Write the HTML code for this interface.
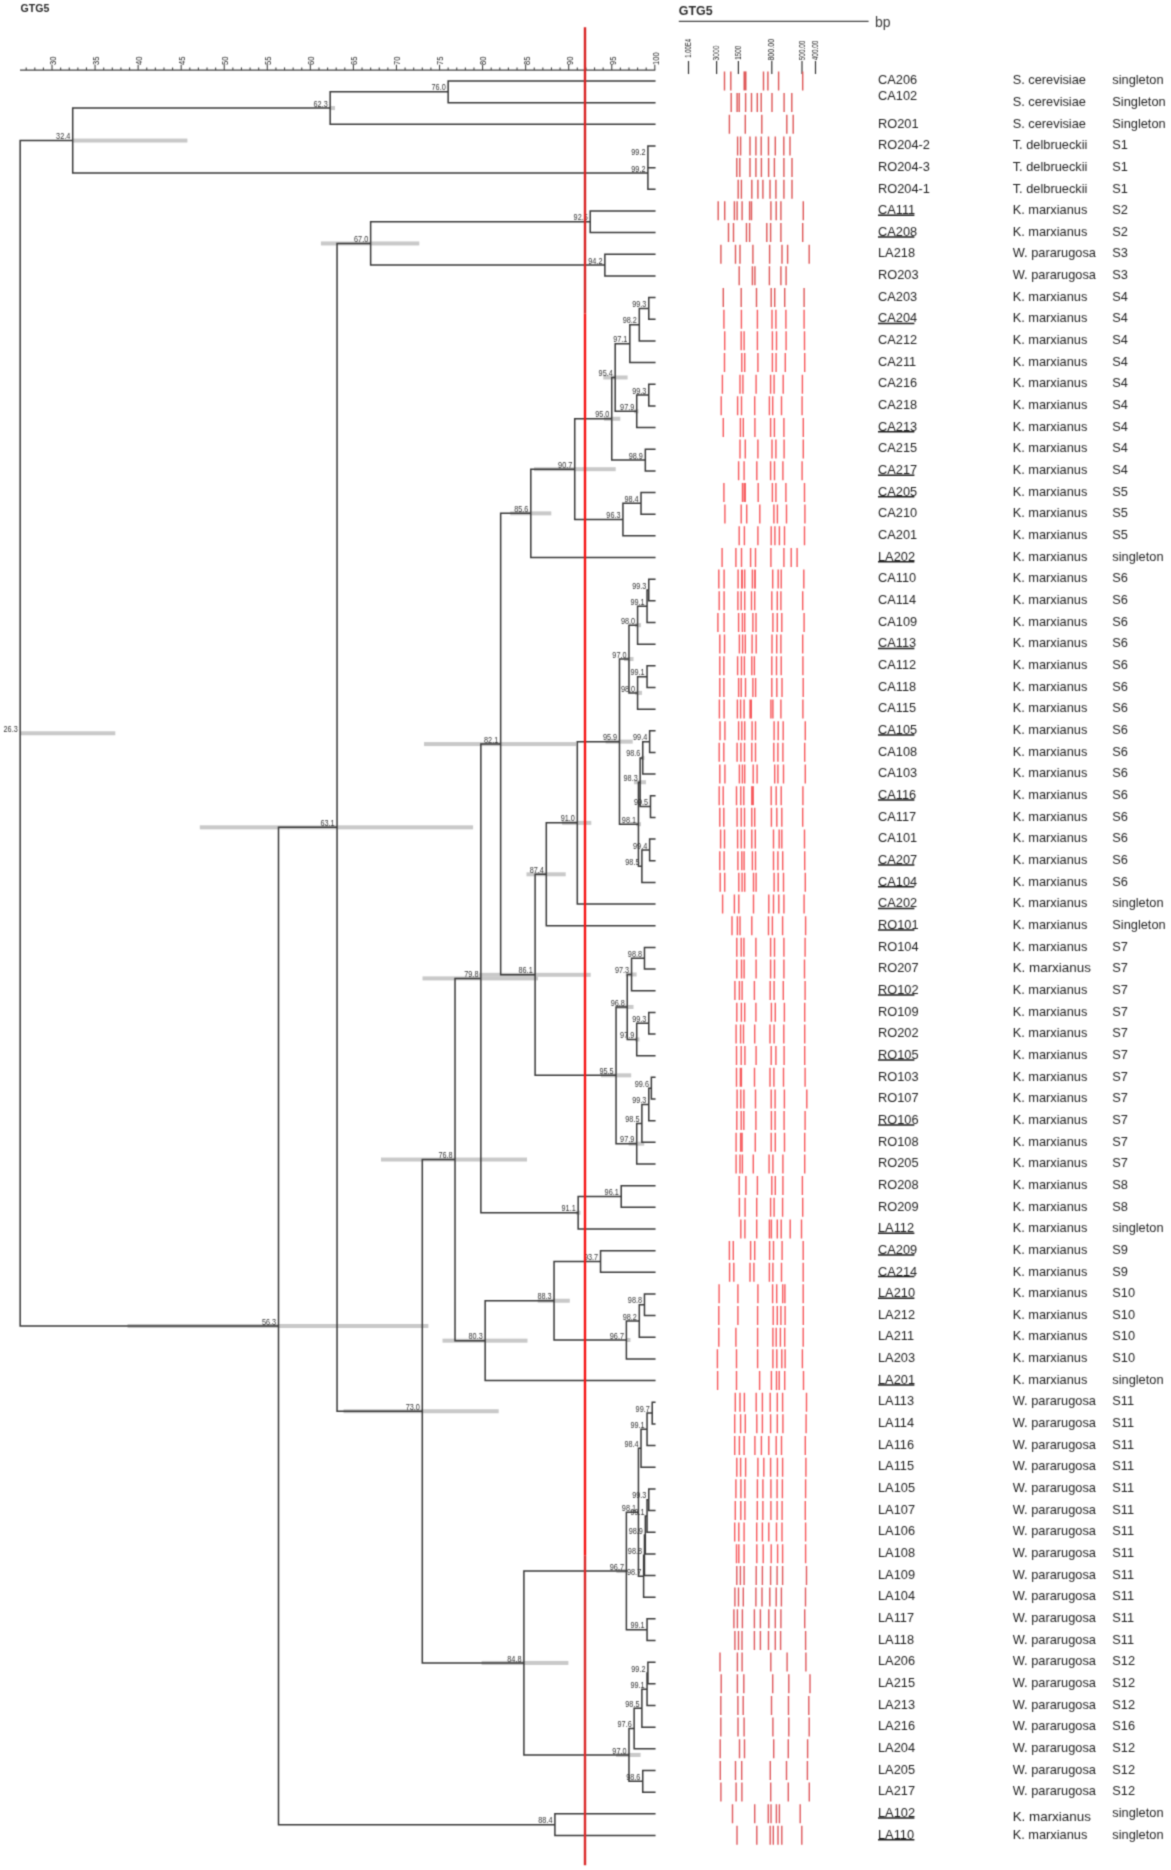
<!DOCTYPE html>
<html><head><meta charset="utf-8"><title>GTG5 dendrogram</title>
<style>html,body{margin:0;padding:0;background:#fff;}svg{display:block;font-family:"Liberation Sans",sans-serif;}</style>
</head><body>
<svg width="1171" height="1870" viewBox="0 0 1171 1870">
<rect width="1171" height="1870" fill="#fff"/>
<filter id="bl" x="0" y="0" width="1171" height="1870" filterUnits="userSpaceOnUse" color-interpolation-filters="sRGB"><feConvolveMatrix order="3" kernelMatrix="0.0324 0.1152 0.0324 0.1152 0.4096 0.1152 0.0324 0.1152 0.0324" divisor="1" edgeMode="duplicate"/></filter>
<g filter="url(#bl)">
<text x="20.5" y="12.1" font-size="10.6" font-weight="bold" fill="#2a2a2a">GTG5</text>
<text x="678.8" y="14.9" font-size="12.2" font-weight="bold" fill="#2a2a2a" textLength="33.8" lengthAdjust="spacingAndGlyphs">GTG5</text>
<line x1="678.8" y1="21.3" x2="868.6" y2="21.3" stroke="#444" stroke-width="1.2"/>
<text x="875" y="26.9" font-size="14" fill="#3a3a3a">bp</text>
<g stroke="#444" stroke-width="1.1">
<line x1="20" y1="70.1" x2="655.3" y2="70.1"/>
<line x1="26.2" y1="67.4" x2="26.2" y2="70.1"/>
<line x1="34.81" y1="67.4" x2="34.81" y2="70.1"/>
<line x1="43.42" y1="67.4" x2="43.42" y2="70.1"/>
<line x1="52.03" y1="64.7" x2="52.03" y2="70.1"/>
<line x1="60.64" y1="67.4" x2="60.64" y2="70.1"/>
<line x1="69.25" y1="67.4" x2="69.25" y2="70.1"/>
<line x1="77.86" y1="67.4" x2="77.86" y2="70.1"/>
<line x1="86.47" y1="67.4" x2="86.47" y2="70.1"/>
<line x1="95.08" y1="64.7" x2="95.08" y2="70.1"/>
<line x1="103.7" y1="67.4" x2="103.7" y2="70.1"/>
<line x1="112.31" y1="67.4" x2="112.31" y2="70.1"/>
<line x1="120.92" y1="67.4" x2="120.92" y2="70.1"/>
<line x1="129.53" y1="67.4" x2="129.53" y2="70.1"/>
<line x1="138.14" y1="64.7" x2="138.14" y2="70.1"/>
<line x1="146.75" y1="67.4" x2="146.75" y2="70.1"/>
<line x1="155.36" y1="67.4" x2="155.36" y2="70.1"/>
<line x1="163.97" y1="67.4" x2="163.97" y2="70.1"/>
<line x1="172.58" y1="67.4" x2="172.58" y2="70.1"/>
<line x1="181.19" y1="64.7" x2="181.19" y2="70.1"/>
<line x1="189.81" y1="67.4" x2="189.81" y2="70.1"/>
<line x1="198.42" y1="67.4" x2="198.42" y2="70.1"/>
<line x1="207.03" y1="67.4" x2="207.03" y2="70.1"/>
<line x1="215.64" y1="67.4" x2="215.64" y2="70.1"/>
<line x1="224.25" y1="64.7" x2="224.25" y2="70.1"/>
<line x1="232.86" y1="67.4" x2="232.86" y2="70.1"/>
<line x1="241.47" y1="67.4" x2="241.47" y2="70.1"/>
<line x1="250.08" y1="67.4" x2="250.08" y2="70.1"/>
<line x1="258.69" y1="67.4" x2="258.69" y2="70.1"/>
<line x1="267.3" y1="64.7" x2="267.3" y2="70.1"/>
<line x1="275.92" y1="67.4" x2="275.92" y2="70.1"/>
<line x1="284.53" y1="67.4" x2="284.53" y2="70.1"/>
<line x1="293.14" y1="67.4" x2="293.14" y2="70.1"/>
<line x1="301.75" y1="67.4" x2="301.75" y2="70.1"/>
<line x1="310.36" y1="64.7" x2="310.36" y2="70.1"/>
<line x1="318.97" y1="67.4" x2="318.97" y2="70.1"/>
<line x1="327.58" y1="67.4" x2="327.58" y2="70.1"/>
<line x1="336.19" y1="67.4" x2="336.19" y2="70.1"/>
<line x1="344.8" y1="67.4" x2="344.8" y2="70.1"/>
<line x1="353.41" y1="64.7" x2="353.41" y2="70.1"/>
<line x1="362.03" y1="67.4" x2="362.03" y2="70.1"/>
<line x1="370.64" y1="67.4" x2="370.64" y2="70.1"/>
<line x1="379.25" y1="67.4" x2="379.25" y2="70.1"/>
<line x1="387.86" y1="67.4" x2="387.86" y2="70.1"/>
<line x1="396.47" y1="64.7" x2="396.47" y2="70.1"/>
<line x1="405.08" y1="67.4" x2="405.08" y2="70.1"/>
<line x1="413.69" y1="67.4" x2="413.69" y2="70.1"/>
<line x1="422.3" y1="67.4" x2="422.3" y2="70.1"/>
<line x1="430.91" y1="67.4" x2="430.91" y2="70.1"/>
<line x1="439.52" y1="64.7" x2="439.52" y2="70.1"/>
<line x1="448.14" y1="67.4" x2="448.14" y2="70.1"/>
<line x1="456.75" y1="67.4" x2="456.75" y2="70.1"/>
<line x1="465.36" y1="67.4" x2="465.36" y2="70.1"/>
<line x1="473.97" y1="67.4" x2="473.97" y2="70.1"/>
<line x1="482.58" y1="64.7" x2="482.58" y2="70.1"/>
<line x1="491.19" y1="67.4" x2="491.19" y2="70.1"/>
<line x1="499.8" y1="67.4" x2="499.8" y2="70.1"/>
<line x1="508.41" y1="67.4" x2="508.41" y2="70.1"/>
<line x1="517.02" y1="67.4" x2="517.02" y2="70.1"/>
<line x1="525.63" y1="64.7" x2="525.63" y2="70.1"/>
<line x1="534.25" y1="67.4" x2="534.25" y2="70.1"/>
<line x1="542.86" y1="67.4" x2="542.86" y2="70.1"/>
<line x1="551.47" y1="67.4" x2="551.47" y2="70.1"/>
<line x1="560.08" y1="67.4" x2="560.08" y2="70.1"/>
<line x1="568.69" y1="64.7" x2="568.69" y2="70.1"/>
<line x1="577.3" y1="67.4" x2="577.3" y2="70.1"/>
<line x1="585.91" y1="67.4" x2="585.91" y2="70.1"/>
<line x1="594.52" y1="67.4" x2="594.52" y2="70.1"/>
<line x1="603.13" y1="67.4" x2="603.13" y2="70.1"/>
<line x1="611.74" y1="64.7" x2="611.74" y2="70.1"/>
<line x1="620.36" y1="67.4" x2="620.36" y2="70.1"/>
<line x1="628.97" y1="67.4" x2="628.97" y2="70.1"/>
<line x1="637.58" y1="67.4" x2="637.58" y2="70.1"/>
<line x1="646.19" y1="67.4" x2="646.19" y2="70.1"/>
<line x1="654.8" y1="64.7" x2="654.8" y2="70.1"/>
</g>
<g font-size="8.3" fill="#222">
<text transform="translate(55.93,64.9) rotate(-90)" textLength="8.45" lengthAdjust="spacingAndGlyphs">30</text>
<text transform="translate(98.98,64.9) rotate(-90)" textLength="8.45" lengthAdjust="spacingAndGlyphs">35</text>
<text transform="translate(142.04,64.9) rotate(-90)" textLength="8.45" lengthAdjust="spacingAndGlyphs">40</text>
<text transform="translate(185.09,64.9) rotate(-90)" textLength="8.45" lengthAdjust="spacingAndGlyphs">45</text>
<text transform="translate(228.15,64.9) rotate(-90)" textLength="8.45" lengthAdjust="spacingAndGlyphs">50</text>
<text transform="translate(271.2,64.9) rotate(-90)" textLength="8.45" lengthAdjust="spacingAndGlyphs">55</text>
<text transform="translate(314.26,64.9) rotate(-90)" textLength="8.45" lengthAdjust="spacingAndGlyphs">60</text>
<text transform="translate(357.31,64.9) rotate(-90)" textLength="8.45" lengthAdjust="spacingAndGlyphs">65</text>
<text transform="translate(400.37,64.9) rotate(-90)" textLength="8.45" lengthAdjust="spacingAndGlyphs">70</text>
<text transform="translate(443.42,64.9) rotate(-90)" textLength="8.45" lengthAdjust="spacingAndGlyphs">75</text>
<text transform="translate(486.48,64.9) rotate(-90)" textLength="8.45" lengthAdjust="spacingAndGlyphs">80</text>
<text transform="translate(529.53,64.9) rotate(-90)" textLength="8.45" lengthAdjust="spacingAndGlyphs">85</text>
<text transform="translate(572.59,64.9) rotate(-90)" textLength="8.45" lengthAdjust="spacingAndGlyphs">90</text>
<text transform="translate(615.64,64.9) rotate(-90)" textLength="8.45" lengthAdjust="spacingAndGlyphs">95</text>
<text transform="translate(658.7,64.9) rotate(-90)" textLength="12.68" lengthAdjust="spacingAndGlyphs">100</text>
</g>
<g stroke="#333" stroke-width="1.2">
<line x1="688.5" y1="61" x2="688.5" y2="74"/>
<line x1="716.6" y1="61" x2="716.6" y2="74"/>
<line x1="738.4" y1="61" x2="738.4" y2="74"/>
<line x1="771.8" y1="61" x2="771.8" y2="74"/>
<line x1="802" y1="61" x2="802" y2="74"/>
<line x1="815.5" y1="61" x2="815.5" y2="74"/>
</g><g font-size="8.4" fill="#1a1a1a">
<text transform="translate(691.1,57.8) rotate(-90)" textLength="18.9" lengthAdjust="spacingAndGlyphs">1.00E4</text>
<text transform="translate(719.2,60.6) rotate(-90)" textLength="15" lengthAdjust="spacingAndGlyphs">3000</text>
<text transform="translate(741,59.8) rotate(-90)" textLength="14" lengthAdjust="spacingAndGlyphs">1500</text>
<text transform="translate(774.4,60.6) rotate(-90)" textLength="21.7" lengthAdjust="spacingAndGlyphs">800.00</text>
<text transform="translate(804.6,60.2) rotate(-90)" textLength="19.5" lengthAdjust="spacingAndGlyphs">500.00</text>
<text transform="translate(818.1,60.2) rotate(-90)" textLength="19.5" lengthAdjust="spacingAndGlyphs">400.00</text>
</g>
<g fill="#c9c9c9">
<rect x="329.5" y="106.07" width="5.5" height="4"/>
<rect x="72.6" y="138.56" width="114.8" height="4"/>
<rect x="320.9" y="241.45" width="98.4" height="4"/>
<rect x="634" y="409.31" width="4.5" height="4"/>
<rect x="603.3" y="375.47" width="24.3" height="4"/>
<rect x="604" y="416.76" width="16.3" height="4"/>
<rect x="534" y="467.19" width="81.7" height="4"/>
<rect x="510.2" y="511.35" width="41.1" height="4"/>
<rect x="635" y="623.21" width="6" height="4"/>
<rect x="635" y="690.89" width="7" height="4"/>
<rect x="624" y="657.05" width="9.5" height="4"/>
<rect x="641" y="755.88" width="3.5" height="4"/>
<rect x="634" y="780.24" width="12" height="4"/>
<rect x="636" y="822.21" width="5" height="4"/>
<rect x="605.6" y="739.63" width="27.1" height="4"/>
<rect x="562" y="820.86" width="29.3" height="4"/>
<rect x="526.5" y="872.3" width="39.2" height="4"/>
<rect x="625.7" y="972.48" width="10.9" height="4"/>
<rect x="635" y="1037.45" width="4.5" height="4"/>
<rect x="616.4" y="1004.96" width="17.1" height="4"/>
<rect x="628.7" y="1141.69" width="15.5" height="4"/>
<rect x="601" y="1073.33" width="30.2" height="4"/>
<rect x="479" y="972.81" width="111.7" height="4"/>
<rect x="424" y="742.08" width="152" height="4"/>
<rect x="576" y="1210.74" width="4.5" height="4"/>
<rect x="422.5" y="976.41" width="115.5" height="4"/>
<rect x="626" y="1337.99" width="4.5" height="4"/>
<rect x="537.7" y="1298.73" width="32.1" height="4"/>
<rect x="442.5" y="1338.66" width="85" height="4"/>
<rect x="381" y="1157.54" width="146" height="4"/>
<rect x="616.4" y="1568.97" width="10.9" height="4"/>
<rect x="616" y="1752.91" width="24.6" height="4"/>
<rect x="481.6" y="1660.94" width="86.8" height="4"/>
<rect x="343.5" y="1409.24" width="155.2" height="4"/>
<rect x="199.8" y="825.34" width="273.3" height="4"/>
<rect x="127.5" y="1323.99" width="300.9" height="4"/>
<rect x="20" y="731.28" width="95.3" height="4"/>
</g>
<path d="M448.14 81V102.66M330.17 91.83V124.32M647.91 145.98V167.64M647.91 156.81V189.3M72.7 108.07V173.06M590.22 210.96V232.62M604.86 254.28V275.94M370.64 221.79V265.11M648.77 297.6V319.26M639.3 308.43V340.92M629.83 324.68V362.58M648.77 384.24V405.9M636.72 395.07V427.56M615.19 343.63V411.31M645.33 449.22V470.88M611.74 377.47V460.05M641.02 492.54V514.2M622.94 503.37V535.86M574.72 418.76V519.62M530.8 469.19V557.52M648.77 579.18V600.84M647.05 590.01V622.5M637.58 606.25V644.16M647.05 665.82V687.48M637.58 676.65V709.14M628.97 625.21V692.89M649.63 730.8V752.46M642.74 741.63V774.12M650.49 795.78V817.44M640.16 757.88V806.61M649.63 839.1V860.76M641.88 849.93V882.42M638.44 782.24V866.17M619.49 659.05V824.21M577.3 741.63V904.08M546.3 822.86V925.74M644.47 947.4V969.06M631.55 958.23V990.72M648.77 1012.38V1034.04M636.72 1023.21V1055.7M627.24 974.48V1039.45M651.36 1077.36V1099.02M648.77 1088.19V1120.68M641.88 1104.43V1142.34M636.72 1123.39V1164M616.05 1006.96V1143.69M535.11 874.3V1075.33M500.66 513.35V974.81M621.22 1185.66V1207.32M578.16 1196.49V1228.98M480.86 744.08V1212.74M600.55 1250.64V1272.3M644.47 1293.96V1315.62M639.3 1304.79V1337.28M626.38 1321.03V1358.94M554.05 1261.47V1339.99M485.16 1300.73V1380.6M455.02 978.41V1340.66M652.22 1402.26V1423.92M647.05 1413.09V1445.58M641.02 1429.34V1467.24M648.77 1488.9V1510.56M647.05 1499.73V1532.22M645.33 1515.97V1553.88M644.47 1534.93V1575.54M643.61 1555.23V1597.2M638.44 1448.29V1576.22M647.05 1618.86V1640.52M626.38 1512.25V1629.69M647.91 1662.18V1683.84M647.05 1673.01V1705.5M641.88 1689.26V1727.16M634.13 1708.21V1748.82M642.74 1770.48V1792.14M628.97 1728.51V1781.31M523.91 1570.97V1754.91M422.3 1159.54V1662.94M337.05 243.45V1411.24M554.91 1813.8V1835.46M278.5 827.34V1824.63M20.17 140.56V1325.99M448.14 81H654.8M448.14 102.66H654.8M330.17 91.83H448.14M330.17 124.32H654.8M72.7 108.07H330.17M647.91 145.98H654.8M647.91 167.64H654.8M647.91 156.81H647.91M647.91 189.3H654.8M72.7 173.06H647.91M20.17 140.56H72.7M590.22 210.96H654.8M590.22 232.62H654.8M370.64 221.79H590.22M604.86 254.28H654.8M604.86 275.94H654.8M370.64 265.11H604.86M337.05 243.45H370.64M648.77 297.6H654.8M648.77 319.26H654.8M639.3 308.43H648.77M639.3 340.92H654.8M629.83 324.68H639.3M629.83 362.58H654.8M615.19 343.63H629.83M648.77 384.24H654.8M648.77 405.9H654.8M636.72 395.07H648.77M636.72 427.56H654.8M615.19 411.31H636.72M611.74 377.47H615.19M645.33 449.22H654.8M645.33 470.88H654.8M611.74 460.05H645.33M574.72 418.76H611.74M641.02 492.54H654.8M641.02 514.2H654.8M622.94 503.37H641.02M622.94 535.86H654.8M574.72 519.62H622.94M530.8 469.19H574.72M530.8 557.52H654.8M500.66 513.35H530.8M648.77 579.18H654.8M648.77 600.84H654.8M647.05 590.01H648.77M647.05 622.5H654.8M637.58 606.25H647.05M637.58 644.16H654.8M628.97 625.21H637.58M647.05 665.82H654.8M647.05 687.48H654.8M637.58 676.65H647.05M637.58 709.14H654.8M628.97 692.89H637.58M619.49 659.05H628.97M649.63 730.8H654.8M649.63 752.46H654.8M642.74 741.63H649.63M642.74 774.12H654.8M640.16 757.88H642.74M650.49 795.78H654.8M650.49 817.44H654.8M640.16 806.61H650.49M638.44 782.24H640.16M649.63 839.1H654.8M649.63 860.76H654.8M641.88 849.93H649.63M641.88 882.42H654.8M638.44 866.17H641.88M619.49 824.21H638.44M577.3 741.63H619.49M577.3 904.08H654.8M546.3 822.86H577.3M546.3 925.74H654.8M535.11 874.3H546.3M644.47 947.4H654.8M644.47 969.06H654.8M631.55 958.23H644.47M631.55 990.72H654.8M627.24 974.48H631.55M648.77 1012.38H654.8M648.77 1034.04H654.8M636.72 1023.21H648.77M636.72 1055.7H654.8M627.24 1039.45H636.72M616.05 1006.96H627.24M651.36 1077.36H654.8M651.36 1099.02H654.8M648.77 1088.19H651.36M648.77 1120.68H654.8M641.88 1104.43H648.77M641.88 1142.34H654.8M636.72 1123.39H641.88M636.72 1164H654.8M616.05 1143.69H636.72M535.11 1075.33H616.05M500.66 974.81H535.11M480.86 744.08H500.66M621.22 1185.66H654.8M621.22 1207.32H654.8M578.16 1196.49H621.22M578.16 1228.98H654.8M480.86 1212.74H578.16M455.02 978.41H480.86M600.55 1250.64H654.8M600.55 1272.3H654.8M554.05 1261.47H600.55M644.47 1293.96H654.8M644.47 1315.62H654.8M639.3 1304.79H644.47M639.3 1337.28H654.8M626.38 1321.03H639.3M626.38 1358.94H654.8M554.05 1339.99H626.38M485.16 1300.73H554.05M485.16 1380.6H654.8M455.02 1340.66H485.16M422.3 1159.54H455.02M652.22 1402.26H654.8M652.22 1423.92H654.8M647.05 1413.09H652.22M647.05 1445.58H654.8M641.02 1429.34H647.05M641.02 1467.24H654.8M638.44 1448.29H641.02M648.77 1488.9H654.8M648.77 1510.56H654.8M647.05 1499.73H648.77M647.05 1532.22H654.8M645.33 1515.97H647.05M645.33 1553.88H654.8M644.47 1534.93H645.33M644.47 1575.54H654.8M643.61 1555.23H644.47M643.61 1597.2H654.8M638.44 1576.22H643.61M626.38 1512.25H638.44M647.05 1618.86H654.8M647.05 1640.52H654.8M626.38 1629.69H647.05M523.91 1570.97H626.38M647.91 1662.18H654.8M647.91 1683.84H654.8M647.05 1673.01H647.91M647.05 1705.5H654.8M641.88 1689.26H647.05M641.88 1727.16H654.8M634.13 1708.21H641.88M634.13 1748.82H654.8M628.97 1728.51H634.13M642.74 1770.48H654.8M642.74 1792.14H654.8M628.97 1781.31H642.74M523.91 1754.91H628.97M422.3 1662.94H523.91M337.05 1411.24H422.3M278.5 827.34H337.05M554.91 1813.8H654.8M554.91 1835.46H654.8M278.5 1824.63H554.91M20.17 1325.99H278.5" stroke="#383838" stroke-width="1.5" fill="none" stroke-linecap="square"/>
<g font-size="8.2" fill="#333" text-anchor="end">
<text x="445.74" y="90.43" textLength="14.21" lengthAdjust="spacingAndGlyphs">76.0</text>
<text x="327.77" y="106.67" textLength="14.21" lengthAdjust="spacingAndGlyphs">62.3</text>
<text x="645.51" y="155.41" textLength="14.21" lengthAdjust="spacingAndGlyphs">99.2</text>
<text x="645.51" y="171.66" textLength="14.21" lengthAdjust="spacingAndGlyphs">99.2</text>
<text x="70.3" y="139.16" textLength="14.21" lengthAdjust="spacingAndGlyphs">32.4</text>
<text x="587.82" y="220.39" textLength="14.21" lengthAdjust="spacingAndGlyphs">92.5</text>
<text x="602.46" y="263.71" textLength="14.21" lengthAdjust="spacingAndGlyphs">94.2</text>
<text x="368.24" y="242.05" textLength="14.21" lengthAdjust="spacingAndGlyphs">67.0</text>
<text x="646.37" y="307.03" textLength="14.21" lengthAdjust="spacingAndGlyphs">99.3</text>
<text x="636.9" y="323.28" textLength="14.21" lengthAdjust="spacingAndGlyphs">98.2</text>
<text x="627.43" y="342.23" textLength="14.21" lengthAdjust="spacingAndGlyphs">97.1</text>
<text x="646.37" y="393.67" textLength="14.21" lengthAdjust="spacingAndGlyphs">99.3</text>
<text x="634.32" y="409.92" textLength="14.21" lengthAdjust="spacingAndGlyphs">97.9</text>
<text x="612.79" y="376.07" textLength="14.21" lengthAdjust="spacingAndGlyphs">95.4</text>
<text x="642.93" y="458.65" textLength="14.21" lengthAdjust="spacingAndGlyphs">98.9</text>
<text x="609.34" y="417.36" textLength="14.21" lengthAdjust="spacingAndGlyphs">95.0</text>
<text x="638.62" y="501.97" textLength="14.21" lengthAdjust="spacingAndGlyphs">98.4</text>
<text x="620.54" y="518.22" textLength="14.21" lengthAdjust="spacingAndGlyphs">96.3</text>
<text x="572.32" y="467.79" textLength="14.21" lengthAdjust="spacingAndGlyphs">90.7</text>
<text x="528.4" y="511.95" textLength="14.21" lengthAdjust="spacingAndGlyphs">85.6</text>
<text x="646.37" y="588.61" textLength="14.21" lengthAdjust="spacingAndGlyphs">99.3</text>
<text x="644.65" y="604.86" textLength="14.21" lengthAdjust="spacingAndGlyphs">99.1</text>
<text x="635.18" y="623.81" textLength="14.21" lengthAdjust="spacingAndGlyphs">98.0</text>
<text x="644.65" y="675.25" textLength="14.21" lengthAdjust="spacingAndGlyphs">99.1</text>
<text x="635.18" y="691.5" textLength="14.21" lengthAdjust="spacingAndGlyphs">98.0</text>
<text x="626.57" y="657.65" textLength="14.21" lengthAdjust="spacingAndGlyphs">97.0</text>
<text x="647.23" y="740.23" textLength="14.21" lengthAdjust="spacingAndGlyphs">99.4</text>
<text x="640.34" y="756.48" textLength="14.21" lengthAdjust="spacingAndGlyphs">98.6</text>
<text x="648.09" y="805.21" textLength="14.21" lengthAdjust="spacingAndGlyphs">99.5</text>
<text x="637.76" y="780.84" textLength="14.21" lengthAdjust="spacingAndGlyphs">98.3</text>
<text x="647.23" y="848.53" textLength="14.21" lengthAdjust="spacingAndGlyphs">99.4</text>
<text x="639.48" y="864.77" textLength="14.21" lengthAdjust="spacingAndGlyphs">98.5</text>
<text x="636.04" y="822.81" textLength="14.21" lengthAdjust="spacingAndGlyphs">98.1</text>
<text x="617.09" y="740.23" textLength="14.21" lengthAdjust="spacingAndGlyphs">95.9</text>
<text x="574.9" y="821.46" textLength="14.21" lengthAdjust="spacingAndGlyphs">91.0</text>
<text x="543.9" y="872.9" textLength="14.21" lengthAdjust="spacingAndGlyphs">87.4</text>
<text x="642.07" y="956.83" textLength="14.21" lengthAdjust="spacingAndGlyphs">98.8</text>
<text x="629.15" y="973.08" textLength="14.21" lengthAdjust="spacingAndGlyphs">97.3</text>
<text x="646.37" y="1021.81" textLength="14.21" lengthAdjust="spacingAndGlyphs">99.3</text>
<text x="634.32" y="1038.05" textLength="14.21" lengthAdjust="spacingAndGlyphs">97.9</text>
<text x="624.84" y="1005.56" textLength="14.21" lengthAdjust="spacingAndGlyphs">96.8</text>
<text x="648.96" y="1086.79" textLength="14.21" lengthAdjust="spacingAndGlyphs">99.6</text>
<text x="646.37" y="1103.03" textLength="14.21" lengthAdjust="spacingAndGlyphs">99.3</text>
<text x="639.48" y="1121.99" textLength="14.21" lengthAdjust="spacingAndGlyphs">98.5</text>
<text x="634.32" y="1142.29" textLength="14.21" lengthAdjust="spacingAndGlyphs">97.9</text>
<text x="613.65" y="1073.93" textLength="14.21" lengthAdjust="spacingAndGlyphs">95.5</text>
<text x="532.71" y="973.41" textLength="14.21" lengthAdjust="spacingAndGlyphs">86.1</text>
<text x="498.26" y="742.68" textLength="14.21" lengthAdjust="spacingAndGlyphs">82.1</text>
<text x="618.82" y="1195.09" textLength="14.21" lengthAdjust="spacingAndGlyphs">96.1</text>
<text x="575.76" y="1211.34" textLength="14.21" lengthAdjust="spacingAndGlyphs">91.1</text>
<text x="478.46" y="977.01" textLength="14.21" lengthAdjust="spacingAndGlyphs">79.8</text>
<text x="598.15" y="1260.07" textLength="14.21" lengthAdjust="spacingAndGlyphs">93.7</text>
<text x="642.07" y="1303.39" textLength="14.21" lengthAdjust="spacingAndGlyphs">98.8</text>
<text x="636.9" y="1319.63" textLength="14.21" lengthAdjust="spacingAndGlyphs">98.2</text>
<text x="623.98" y="1338.59" textLength="14.21" lengthAdjust="spacingAndGlyphs">96.7</text>
<text x="551.65" y="1299.33" textLength="14.21" lengthAdjust="spacingAndGlyphs">88.3</text>
<text x="482.76" y="1339.26" textLength="14.21" lengthAdjust="spacingAndGlyphs">80.3</text>
<text x="452.62" y="1158.14" textLength="14.21" lengthAdjust="spacingAndGlyphs">76.8</text>
<text x="649.82" y="1411.69" textLength="14.21" lengthAdjust="spacingAndGlyphs">99.7</text>
<text x="644.65" y="1427.93" textLength="14.21" lengthAdjust="spacingAndGlyphs">99.1</text>
<text x="638.62" y="1446.89" textLength="14.21" lengthAdjust="spacingAndGlyphs">98.4</text>
<text x="646.37" y="1498.33" textLength="14.21" lengthAdjust="spacingAndGlyphs">99.3</text>
<text x="644.65" y="1514.57" textLength="14.21" lengthAdjust="spacingAndGlyphs">99.1</text>
<text x="642.93" y="1533.53" textLength="14.21" lengthAdjust="spacingAndGlyphs">98.9</text>
<text x="642.07" y="1553.83" textLength="14.21" lengthAdjust="spacingAndGlyphs">98.8</text>
<text x="641.21" y="1574.82" textLength="14.21" lengthAdjust="spacingAndGlyphs">98.7</text>
<text x="636.04" y="1510.85" textLength="14.21" lengthAdjust="spacingAndGlyphs">98.1</text>
<text x="644.65" y="1628.29" textLength="14.21" lengthAdjust="spacingAndGlyphs">99.1</text>
<text x="623.98" y="1569.57" textLength="14.21" lengthAdjust="spacingAndGlyphs">96.7</text>
<text x="645.51" y="1671.61" textLength="14.21" lengthAdjust="spacingAndGlyphs">99.2</text>
<text x="644.65" y="1687.86" textLength="14.21" lengthAdjust="spacingAndGlyphs">99.1</text>
<text x="639.48" y="1706.81" textLength="14.21" lengthAdjust="spacingAndGlyphs">98.5</text>
<text x="631.73" y="1727.11" textLength="14.21" lengthAdjust="spacingAndGlyphs">97.6</text>
<text x="640.34" y="1779.91" textLength="14.21" lengthAdjust="spacingAndGlyphs">98.6</text>
<text x="626.57" y="1753.51" textLength="14.21" lengthAdjust="spacingAndGlyphs">97.0</text>
<text x="521.51" y="1661.54" textLength="14.21" lengthAdjust="spacingAndGlyphs">84.8</text>
<text x="419.9" y="1409.84" textLength="14.21" lengthAdjust="spacingAndGlyphs">73.0</text>
<text x="334.65" y="825.94" textLength="14.21" lengthAdjust="spacingAndGlyphs">63.1</text>
<text x="552.51" y="1823.23" textLength="14.21" lengthAdjust="spacingAndGlyphs">88.4</text>
<text x="276.1" y="1324.59" textLength="14.21" lengthAdjust="spacingAndGlyphs">56.3</text>
<text x="17.77" y="731.88" textLength="14.21" lengthAdjust="spacingAndGlyphs">26.3</text>
</g>
<path d="M724.5 71.4V90.4M730.8 71.4V90.4M763.5 71.4V90.4M767.9 71.4V90.4M778.6 71.4V90.4M802.7 71.4V90.4M731.2 93.06V112.06M737.1 93.06V112.06M739.2 93.06V112.06M745.6 93.06V112.06M751.5 93.06V112.06M757.3 93.06V112.06M761.2 93.06V112.06M772 93.06V112.06M784.1 93.06V112.06M791.8 93.06V112.06M729.4 114.72V133.72M745.3 114.72V133.72M761.8 114.72V133.72M786.8 114.72V133.72M793.2 114.72V133.72M737.6 136.38V155.38M740.6 136.38V155.38M750 136.38V155.38M755.9 136.38V155.38M761.2 136.38V155.38M768.5 136.38V155.38M775.3 136.38V155.38M783.8 136.38V155.38M790 136.38V155.38M736.8 158.04V177.04M739.8 158.04V177.04M750 158.04V177.04M755.9 158.04V177.04M761.4 158.04V177.04M768.6 158.04V177.04M774.4 158.04V177.04M783.9 158.04V177.04M792 158.04V177.04M738.2 179.7V198.7M741.4 179.7V198.7M751.8 179.7V198.7M757.9 179.7V198.7M762.9 179.7V198.7M770 179.7V198.7M775.9 179.7V198.7M783.9 179.7V198.7M792 179.7V198.7M718.2 201.36V220.36M724.7 201.36V220.36M734.4 201.36V220.36M737.1 201.36V220.36M742.1 201.36V220.36M749.6 201.36V220.36M751.5 201.36V220.36M770.9 201.36V220.36M776.2 201.36V220.36M780.9 201.36V220.36M803.3 201.36V220.36M728.5 223.02V242.02M733.5 223.02V242.02M746.5 223.02V242.02M749.6 223.02V242.02M766.8 223.02V242.02M770.6 223.02V242.02M780.9 223.02V242.02M802.7 223.02V242.02M720.9 244.68V263.68M735.5 244.68V263.68M740 244.68V263.68M752.9 244.68V263.68M769.6 244.68V263.68M782 244.68V263.68M787.6 244.68V263.68M809.2 244.68V263.68M739.2 266.34V285.34M752.4 266.34V285.34M754.9 266.34V285.34M769.4 266.34V285.34M780.9 266.34V285.34M786.1 266.34V285.34M723.3 288V307M741.2 288V307M756.5 288V307M771.2 288V307M774.7 288V307M784.7 288V307M804.1 288V307" stroke="#de5656" stroke-width="1.4" fill="none"/>
<g fill="#de5656"><rect x="743.5" y="71.4" width="3" height="19"/></g>
<path d="M723.9 309.66V328.66M741.4 309.66V328.66M757.4 309.66V328.66M772 309.66V328.66M775.9 309.66V328.66M785.9 309.66V328.66M804.1 309.66V328.66M724.7 331.32V350.32M741.2 331.32V350.32M744.1 331.32V350.32M757.4 331.32V350.32M772.4 331.32V350.32M776.5 331.32V350.32M786.1 331.32V350.32M804.5 331.32V350.32M724.5 352.98V371.98M741.8 352.98V371.98M744.7 352.98V371.98M757.9 352.98V371.98M772.4 352.98V371.98M776.1 352.98V371.98M785.3 352.98V371.98M804.7 352.98V371.98M722.4 374.64V393.64M740 374.64V393.64M742.9 374.64V393.64M756.1 374.64V393.64M770.6 374.64V393.64M774.1 374.64V393.64M783.2 374.64V393.64M802.4 374.64V393.64M721.2 396.3V415.3M737.6 396.3V415.3M741.5 396.3V415.3M754.7 396.3V415.3M769.4 396.3V415.3M772.7 396.3V415.3M781.5 396.3V415.3M802.1 396.3V415.3M723.3 417.96V436.96M740.4 417.96V436.96M743.3 417.96V436.96M754.9 417.96V436.96M770.6 417.96V436.96M774.4 417.96V436.96M783.9 417.96V436.96M803.3 417.96V436.96M740 439.62V458.62M745.3 439.62V458.62M757.9 439.62V458.62M772 439.62V458.62M775.9 439.62V458.62M784.1 439.62V458.62M803.3 439.62V458.62M738.6 461.28V480.28M744.1 461.28V480.28M756.8 461.28V480.28M770.6 461.28V480.28M774.5 461.28V480.28M782.9 461.28V480.28M802.1 461.28V480.28M723.9 482.94V501.94M758.2 482.94V501.94M772.4 482.94V501.94M775.9 482.94V501.94M785.9 482.94V501.94M804.5 482.94V501.94M724.9 504.6V523.6M741.2 504.6V523.6M746.7 504.6V523.6M759.8 504.6V523.6M773.9 504.6V523.6M777.4 504.6V523.6M786.5 504.6V523.6M804.9 504.6V523.6M739.2 526.26V545.26M744.4 526.26V545.26M757.9 526.26V545.26M771.2 526.26V545.26M774.9 526.26V545.26M779.4 526.26V545.26M784.5 526.26V545.26M804.5 526.26V545.26M722.1 547.92V566.92M735.9 547.92V566.92M741.5 547.92V566.92M750.6 547.92V566.92M755.5 547.92V566.92M770.9 547.92V566.92M783.9 547.92V566.92M791.2 547.92V566.92M797.1 547.92V566.92M718.8 569.58V588.58M724.1 569.58V588.58M738.1 569.58V588.58M744.7 569.58V588.58M752.4 569.58V588.58M772.7 569.58V588.58M778.2 569.58V588.58M781.2 569.58V588.58M803.8 569.58V588.58M719.2 591.24V610.24M724.1 591.24V610.24M737.9 591.24V610.24M741.2 591.24V610.24M744.7 591.24V610.24M751.5 591.24V610.24M754.7 591.24V610.24M771.8 591.24V610.24M777.3 591.24V610.24M780.9 591.24V610.24M802.7 591.24V610.24M717.9 612.9V631.9M724.1 612.9V631.9M738.6 612.9V631.9M742.4 612.9V631.9M744.7 612.9V631.9M752.9 612.9V631.9M756 612.9V631.9M772.9 612.9V631.9M777.3 612.9V631.9M781.8 612.9V631.9M804.1 612.9V631.9M719.8 634.56V653.56M724.5 634.56V653.56M739.4 634.56V653.56M742.6 634.56V653.56M745.3 634.56V653.56M752.1 634.56V653.56M756.2 634.56V653.56M772 634.56V653.56M776.7 634.56V653.56M780.9 634.56V653.56M802.7 634.56V653.56M719.8 656.22V675.22M723.9 656.22V675.22M737.6 656.22V675.22M741.5 656.22V675.22M744.4 656.22V675.22M751.8 656.22V675.22M754.4 656.22V675.22M771.8 656.22V675.22M776.5 656.22V675.22M781.2 656.22V675.22M802.9 656.22V675.22M719.8 677.88V696.88M723.9 677.88V696.88M738.6 677.88V696.88M741.2 677.88V696.88M745.5 677.88V696.88M752.9 677.88V696.88M755.6 677.88V696.88M771.8 677.88V696.88M776.8 677.88V696.88M782 677.88V696.88M803.2 677.88V696.88M719.4 699.54V718.54M724.1 699.54V718.54M737.4 699.54V718.54M740.6 699.54V718.54M744.1 699.54V718.54M770.9 699.54V718.54M772.9 699.54V718.54M780.9 699.54V718.54M802.9 699.54V718.54M720 721.2V740.2M724.9 721.2V740.2M738.6 721.2V740.2M741.8 721.2V740.2M744.7 721.2V740.2M752.1 721.2V740.2M755.5 721.2V740.2M774.1 721.2V740.2M778.2 721.2V740.2M783.2 721.2V740.2M805.3 721.2V740.2M719.2 742.86V761.86M723.8 742.86V761.86M737.1 742.86V761.86M740.9 742.86V761.86M744.5 742.86V761.86M751.8 742.86V761.86M755.5 742.86V761.86M773.8 742.86V761.86M777.9 742.86V761.86M782.9 742.86V761.86M804.7 742.86V761.86M719.8 764.52V783.52M724.9 764.52V783.52M739.4 764.52V783.52M742.4 764.52V783.52M744.7 764.52V783.52M753.2 764.52V783.52M757.1 764.52V783.52M774.7 764.52V783.52M777.9 764.52V783.52M783.5 764.52V783.52M805.3 764.52V783.52M719.2 786.18V805.18M723.2 786.18V805.18M736.5 786.18V805.18M740.8 786.18V805.18M743.8 786.18V805.18M771.2 786.18V805.18M776.2 786.18V805.18M781.2 786.18V805.18M802.9 786.18V805.18M719.8 807.84V826.84M723.8 807.84V826.84M737.1 807.84V826.84M741.2 807.84V826.84M744.5 807.84V826.84M751.8 807.84V826.84M754.7 807.84V826.84M771.4 807.84V826.84M776.8 807.84V826.84M781.8 807.84V826.84M802.7 807.84V826.84M720.6 829.5V848.5M724.5 829.5V848.5M737.6 829.5V848.5M741.2 829.5V848.5M744.5 829.5V848.5M751.8 829.5V848.5M755.3 829.5V848.5M773.5 829.5V848.5M779.2 829.5V848.5M781.8 829.5V848.5M804.5 829.5V848.5M719.8 851.16V870.16M724.1 851.16V870.16M737.9 851.16V870.16M741.8 851.16V870.16M744.1 851.16V870.16M752.4 851.16V870.16M755.5 851.16V870.16M773.5 851.16V870.16M777.9 851.16V870.16M782.7 851.16V870.16M804.7 851.16V870.16M720.2 872.82V891.82M724.7 872.82V891.82M738.8 872.82V891.82M742.1 872.82V891.82M744.7 872.82V891.82M753.5 872.82V891.82M756.1 872.82V891.82M774.1 872.82V891.82M778.2 872.82V891.82M783.5 872.82V891.82M805.3 872.82V891.82M722.6 894.48V913.48M734.4 894.48V913.48M738.8 894.48V913.48M753.5 894.48V913.48M768.8 894.48V913.48M773.5 894.48V913.48M778.8 894.48V913.48M783.9 894.48V913.48M804.1 894.48V913.48M732 916.14V935.14M737.4 916.14V935.14M740 916.14V935.14M751.8 916.14V935.14M768.5 916.14V935.14M772.4 916.14V935.14M782.6 916.14V935.14M805.6 916.14V935.14M736.8 937.8V956.8M741.2 937.8V956.8M743.9 937.8V956.8M755.9 937.8V956.8M770.6 937.8V956.8M774.5 937.8V956.8M783.9 937.8V956.8M805.1 937.8V956.8M736.8 959.46V978.46M741.5 959.46V978.46M744.1 959.46V978.46M756.1 959.46V978.46M770.6 959.46V978.46M774.5 959.46V978.46M783.9 959.46V978.46M804.5 959.46V978.46M734.9 981.12V1000.12M739.4 981.12V1000.12M742.1 981.12V1000.12M754.4 981.12V1000.12M770.2 981.12V1000.12M774.1 981.12V1000.12M783.3 981.12V1000.12M805.1 981.12V1000.12M736.8 1002.78V1021.78M741.4 1002.78V1021.78M744.7 1002.78V1021.78M755.9 1002.78V1021.78M771.4 1002.78V1021.78M775.3 1002.78V1021.78M784.4 1002.78V1021.78M804.7 1002.78V1021.78M736.1 1024.44V1043.44M740.6 1024.44V1043.44M743.5 1024.44V1043.44M754.7 1024.44V1043.44M770 1024.44V1043.44M774.1 1024.44V1043.44M783.8 1024.44V1043.44M804.7 1024.44V1043.44M736.5 1046.1V1065.1M741.2 1046.1V1065.1M744.9 1046.1V1065.1M756.1 1046.1V1065.1M771.2 1046.1V1065.1M775.9 1046.1V1065.1M784.1 1046.1V1065.1M804.7 1046.1V1065.1M736.5 1067.76V1086.76M754.5 1067.76V1086.76M770 1067.76V1086.76M773.9 1067.76V1086.76M783.5 1067.76V1086.76M805.1 1067.76V1086.76M737.1 1089.42V1108.42M740.8 1089.42V1108.42M743.9 1089.42V1108.42M755.5 1089.42V1108.42M771.2 1089.42V1108.42M775.1 1089.42V1108.42M784.4 1089.42V1108.42M806.8 1089.42V1108.42M736.8 1111.08V1130.08M741.2 1111.08V1130.08M743.8 1111.08V1130.08M755.9 1111.08V1130.08M771.4 1111.08V1130.08M775.1 1111.08V1130.08M784.1 1111.08V1130.08M805.1 1111.08V1130.08M736.1 1132.74V1151.74M740.6 1132.74V1151.74M742.1 1132.74V1151.74M755.3 1132.74V1151.74M771.2 1132.74V1151.74M775.3 1132.74V1151.74M784.5 1132.74V1151.74M804.7 1132.74V1151.74M736.1 1154.4V1173.4M740 1154.4V1173.4M742.4 1154.4V1173.4M753.3 1154.4V1173.4M769.1 1154.4V1173.4M772.9 1154.4V1173.4M782.9 1154.4V1173.4M804.7 1154.4V1173.4M739.2 1176.06V1195.06M745.9 1176.06V1195.06M757.4 1176.06V1195.06M771.8 1176.06V1195.06M775.3 1176.06V1195.06M782.9 1176.06V1195.06M802.4 1176.06V1195.06M739.4 1197.72V1216.72M745.1 1197.72V1216.72M756.7 1197.72V1216.72M770.6 1197.72V1216.72M774.1 1197.72V1216.72M782.6 1197.72V1216.72M802.7 1197.72V1216.72M740.8 1219.38V1238.38M744.9 1219.38V1238.38M756.7 1219.38V1238.38M769.4 1219.38V1238.38M771.4 1219.38V1238.38M777.3 1219.38V1238.38M781.2 1219.38V1238.38M790.2 1219.38V1238.38M801.5 1219.38V1238.38M729.4 1241.04V1260.04M733.3 1241.04V1260.04M750.6 1241.04V1260.04M754.7 1241.04V1260.04M769.6 1241.04V1260.04M773.5 1241.04V1260.04M782.1 1241.04V1260.04M803.2 1241.04V1260.04M729.6 1262.7V1281.7M733.8 1262.7V1281.7M750 1262.7V1281.7M753.9 1262.7V1281.7M769.4 1262.7V1281.7M772.9 1262.7V1281.7M781.5 1262.7V1281.7M803.2 1262.7V1281.7M719.1 1284.36V1303.36M737.9 1284.36V1303.36M757.9 1284.36V1303.36M772.6 1284.36V1303.36M776.7 1284.36V1303.36M782.7 1284.36V1303.36M784.9 1284.36V1303.36M803.2 1284.36V1303.36M718.8 1306.02V1325.02M737.9 1306.02V1325.02M757.6 1306.02V1325.02M773.2 1306.02V1325.02M777.3 1306.02V1325.02M780.9 1306.02V1325.02M785.1 1306.02V1325.02M803.3 1306.02V1325.02M718.8 1327.68V1346.68M735.9 1327.68V1346.68M757.6 1327.68V1346.68M772.9 1327.68V1346.68M776.2 1327.68V1346.68M780.4 1327.68V1346.68M784.7 1327.68V1346.68M803.2 1327.68V1346.68M717.4 1349.34V1368.34M736.5 1349.34V1368.34M757.6 1349.34V1368.34M772.9 1349.34V1368.34M776.8 1349.34V1368.34M781.8 1349.34V1368.34M785.1 1349.34V1368.34M802.4 1349.34V1368.34M717.6 1371V1390M736.5 1371V1390M759.6 1371V1390M771.4 1371V1390M776.5 1371V1390M779.2 1371V1390M784.7 1371V1390M803.5 1371V1390M735.3 1392.66V1411.66M740 1392.66V1411.66M744.4 1392.66V1411.66M756.2 1392.66V1411.66M762.4 1392.66V1411.66M770.2 1392.66V1411.66M777.3 1392.66V1411.66M782.6 1392.66V1411.66M806.5 1392.66V1411.66M734.7 1414.32V1433.32M740.6 1414.32V1433.32M745.3 1414.32V1433.32M756.8 1414.32V1433.32M762.4 1414.32V1433.32M770.6 1414.32V1433.32M777.3 1414.32V1433.32M782.9 1414.32V1433.32M806.1 1414.32V1433.32M734.7 1435.98V1454.98M739.4 1435.98V1454.98M744.1 1435.98V1454.98M754.9 1435.98V1454.98M761.4 1435.98V1454.98M768.8 1435.98V1454.98M776.2 1435.98V1454.98M781.5 1435.98V1454.98M805.3 1435.98V1454.98M736.8 1457.64V1476.64M740.6 1457.64V1476.64M745.6 1457.64V1476.64M757.9 1457.64V1476.64M763.8 1457.64V1476.64M770.6 1457.64V1476.64M777.4 1457.64V1476.64M782.6 1457.64V1476.64M805.9 1457.64V1476.64M735.9 1479.3V1498.3M740.9 1479.3V1498.3M744.9 1479.3V1498.3M757.4 1479.3V1498.3M762.9 1479.3V1498.3M770.9 1479.3V1498.3M777.1 1479.3V1498.3M782.4 1479.3V1498.3M805.6 1479.3V1498.3M735.3 1500.96V1519.96M740.8 1500.96V1519.96M744.9 1500.96V1519.96M757.3 1500.96V1519.96M762.9 1500.96V1519.96M770.9 1500.96V1519.96M777.1 1500.96V1519.96M782.1 1500.96V1519.96M805.3 1500.96V1519.96M734.7 1522.62V1541.62M738.8 1522.62V1541.62M744.1 1522.62V1541.62M756.7 1522.62V1541.62M762.4 1522.62V1541.62M768.8 1522.62V1541.62M776.5 1522.62V1541.62M782 1522.62V1541.62M805.6 1522.62V1541.62M736.5 1544.28V1563.28M738.8 1544.28V1563.28M744.1 1544.28V1563.28M756.8 1544.28V1563.28M763.2 1544.28V1563.28M771.2 1544.28V1563.28M777.6 1544.28V1563.28M782.6 1544.28V1563.28M805.6 1544.28V1563.28" stroke="#f7585b" stroke-width="1.4" fill="none"/>
<g fill="#f7585b"><rect x="741.8" y="482.94" width="1.8" height="19"/><rect x="744.05" y="482.94" width="1.9" height="19"/><rect x="741.05" y="569.58" width="1.9" height="19"/><rect x="754.1" y="569.58" width="1.8" height="19"/><rect x="749.4" y="699.54" width="2.6" height="19"/><rect x="751.1" y="786.18" width="2.8" height="19"/><rect x="739.7" y="1067.76" width="2.4" height="19"/></g>
<path d="M736.8 1565.94V1584.94M740.4 1565.94V1584.94M744.1 1565.94V1584.94M756.2 1565.94V1584.94M762.4 1565.94V1584.94M770.6 1565.94V1584.94M777.1 1565.94V1584.94M782.6 1565.94V1584.94M806.5 1565.94V1584.94M734.9 1587.6V1606.6M738.5 1587.6V1606.6M743.3 1587.6V1606.6M755.9 1587.6V1606.6M762 1587.6V1606.6M769.8 1587.6V1606.6M776.2 1587.6V1606.6M781.4 1587.6V1606.6M805.5 1587.6V1606.6M733.9 1609.26V1628.26M737.4 1609.26V1628.26M742.4 1609.26V1628.26M754.4 1609.26V1628.26M760.4 1609.26V1628.26M768.8 1609.26V1628.26M775.3 1609.26V1628.26M780.9 1609.26V1628.26M804.7 1609.26V1628.26M734.9 1630.92V1649.92M738.5 1630.92V1649.92M742 1630.92V1649.92M754.4 1630.92V1649.92M760.4 1630.92V1649.92M768.5 1630.92V1649.92M775.3 1630.92V1649.92M780.6 1630.92V1649.92M805.6 1630.92V1649.92M720 1652.58V1671.58M737.4 1652.58V1671.58M742.1 1652.58V1671.58M770.8 1652.58V1671.58M787.1 1652.58V1671.58M805.9 1652.58V1671.58M721.2 1674.24V1693.24M737.4 1674.24V1693.24M743.8 1674.24V1693.24M772.7 1674.24V1693.24M788.8 1674.24V1693.24M810 1674.24V1693.24M720.8 1695.9V1714.9M737.9 1695.9V1714.9M743.2 1695.9V1714.9M771.5 1695.9V1714.9M788.5 1695.9V1714.9M808.8 1695.9V1714.9M720.8 1717.56V1736.56M738 1717.56V1736.56M744.1 1717.56V1736.56M772.9 1717.56V1736.56M788.8 1717.56V1736.56M809.2 1717.56V1736.56M720.2 1739.22V1758.22M739.5 1739.22V1758.22M744.5 1739.22V1758.22M773.7 1739.22V1758.22M788.3 1739.22V1758.22M807.6 1739.22V1758.22M720.3 1760.88V1779.88M735.5 1760.88V1779.88M741.7 1760.88V1779.88M770.3 1760.88V1779.88M786.5 1760.88V1779.88M807.4 1760.88V1779.88M720.9 1782.54V1801.54M736.1 1782.54V1801.54M741.9 1782.54V1801.54M770.7 1782.54V1801.54M788.3 1782.54V1801.54M809.3 1782.54V1801.54M732.5 1804.2V1823.2M754.7 1804.2V1823.2M768.3 1804.2V1823.2M771 1804.2V1823.2M776.4 1804.2V1823.2M779.4 1804.2V1823.2M800.2 1804.2V1823.2M737 1825.86V1844.86M756.8 1825.86V1844.86M770.2 1825.86V1844.86M773.3 1825.86V1844.86M778 1825.86V1844.86M781.8 1825.86V1844.86M801.8 1825.86V1844.86" stroke="#df585c" stroke-width="1.4" fill="none"/>
<line x1="585" y1="27.2" x2="585" y2="313.5" stroke="#d82424" stroke-width="2.4"/>
<line x1="585" y1="313.5" x2="585" y2="1555.7" stroke="#f41414" stroke-width="2.4"/>
<line x1="585" y1="1555.7" x2="585" y2="1865.3" stroke="#da2a2a" stroke-width="2.4"/>
<g font-size="12.8" fill="#1e1e1e">
<text x="878" y="84.2">CA206</text>
<text x="1012.7" y="84.2">S. cerevisiae</text>
<text x="1112.3" y="84.2">singleton</text>
<text x="878" y="100.06">CA102</text>
<text x="1012.7" y="105.86">S. cerevisiae</text>
<text x="1112.3" y="105.86">Singleton</text>
<text x="878" y="127.52">RO201</text>
<text x="1012.7" y="127.52">S. cerevisiae</text>
<text x="1112.3" y="127.52">Singleton</text>
<text x="878" y="149.18">RO204-2</text>
<text x="1012.7" y="149.18">T. delbrueckii</text>
<text x="1112.3" y="149.18">S1</text>
<text x="878" y="170.84">RO204-3</text>
<text x="1012.7" y="170.84">T. delbrueckii</text>
<text x="1112.3" y="170.84">S1</text>
<text x="878" y="192.5">RO204-1</text>
<text x="1012.7" y="192.5">T. delbrueckii</text>
<text x="1112.3" y="192.5">S1</text>
<text x="878" y="214.16">CA111</text>
<text x="1012.7" y="214.16">K. marxianus</text>
<text x="1112.3" y="214.16">S2</text>
<text x="878" y="235.82">CA208</text>
<text x="1012.7" y="235.82">K. marxianus</text>
<text x="1112.3" y="235.82">S2</text>
<text x="878" y="257.48">LA218</text>
<text x="1012.7" y="257.48">W. pararugosa</text>
<text x="1112.3" y="257.48">S3</text>
<text x="878" y="279.14">RO203</text>
<text x="1012.7" y="279.14">W. pararugosa</text>
<text x="1112.3" y="279.14">S3</text>
<text x="878" y="300.8">CA203</text>
<text x="1012.7" y="300.8">K. marxianus</text>
<text x="1112.3" y="300.8">S4</text>
<text x="878" y="322.46">CA204</text>
<text x="1012.7" y="322.46">K. marxianus</text>
<text x="1112.3" y="322.46">S4</text>
<text x="878" y="344.12">CA212</text>
<text x="1012.7" y="344.12">K. marxianus</text>
<text x="1112.3" y="344.12">S4</text>
<text x="878" y="365.78">CA211</text>
<text x="1012.7" y="365.78">K. marxianus</text>
<text x="1112.3" y="365.78">S4</text>
<text x="878" y="387.44">CA216</text>
<text x="1012.7" y="387.44">K. marxianus</text>
<text x="1112.3" y="387.44">S4</text>
<text x="878" y="409.1">CA218</text>
<text x="1012.7" y="409.1">K. marxianus</text>
<text x="1112.3" y="409.1">S4</text>
<text x="878" y="430.76">CA213</text>
<text x="1012.7" y="430.76">K. marxianus</text>
<text x="1112.3" y="430.76">S4</text>
<text x="878" y="452.42">CA215</text>
<text x="1012.7" y="452.42">K. marxianus</text>
<text x="1112.3" y="452.42">S4</text>
<text x="878" y="474.08">CA217</text>
<text x="1012.7" y="474.08">K. marxianus</text>
<text x="1112.3" y="474.08">S4</text>
<text x="878" y="495.74">CA205</text>
<text x="1012.7" y="495.74">K. marxianus</text>
<text x="1112.3" y="495.74">S5</text>
<text x="878" y="517.4">CA210</text>
<text x="1012.7" y="517.4">K. marxianus</text>
<text x="1112.3" y="517.4">S5</text>
<text x="878" y="539.06">CA201</text>
<text x="1012.7" y="539.06">K. marxianus</text>
<text x="1112.3" y="539.06">S5</text>
<text x="878" y="560.72">LA202</text>
<text x="1012.7" y="560.72">K. marxianus</text>
<text x="1112.3" y="560.72">singleton</text>
<text x="878" y="582.38">CA110</text>
<text x="1012.7" y="582.38">K. marxianus</text>
<text x="1112.3" y="582.38">S6</text>
<text x="878" y="604.04">CA114</text>
<text x="1012.7" y="604.04">K. marxianus</text>
<text x="1112.3" y="604.04">S6</text>
<text x="878" y="625.7">CA109</text>
<text x="1012.7" y="625.7">K. marxianus</text>
<text x="1112.3" y="625.7">S6</text>
<text x="878" y="647.36">CA113</text>
<text x="1012.7" y="647.36">K. marxianus</text>
<text x="1112.3" y="647.36">S6</text>
<text x="878" y="669.02">CA112</text>
<text x="1012.7" y="669.02">K. marxianus</text>
<text x="1112.3" y="669.02">S6</text>
<text x="878" y="690.68">CA118</text>
<text x="1012.7" y="690.68">K. marxianus</text>
<text x="1112.3" y="690.68">S6</text>
<text x="878" y="712.34">CA115</text>
<text x="1012.7" y="712.34">K. marxianus</text>
<text x="1112.3" y="712.34">S6</text>
<text x="878" y="734">CA105</text>
<text x="1012.7" y="734">K. marxianus</text>
<text x="1112.3" y="734">S6</text>
<text x="878" y="755.66">CA108</text>
<text x="1012.7" y="755.66">K. marxianus</text>
<text x="1112.3" y="755.66">S6</text>
<text x="878" y="777.32">CA103</text>
<text x="1012.7" y="777.32">K. marxianus</text>
<text x="1112.3" y="777.32">S6</text>
<text x="878" y="798.98">CA116</text>
<text x="1012.7" y="798.98">K. marxianus</text>
<text x="1112.3" y="798.98">S6</text>
<text x="878" y="820.64">CA117</text>
<text x="1012.7" y="820.64">K. marxianus</text>
<text x="1112.3" y="820.64">S6</text>
<text x="878" y="842.3">CA101</text>
<text x="1012.7" y="842.3">K. marxianus</text>
<text x="1112.3" y="842.3">S6</text>
<text x="878" y="863.96">CA207</text>
<text x="1012.7" y="863.96">K. marxianus</text>
<text x="1112.3" y="863.96">S6</text>
<text x="878" y="885.62">CA104</text>
<text x="1012.7" y="885.62">K. marxianus</text>
<text x="1112.3" y="885.62">S6</text>
<text x="878" y="907.28">CA202</text>
<text x="1012.7" y="907.28">K. marxianus</text>
<text x="1112.3" y="907.28">singleton</text>
<text x="878" y="928.94">RO101</text>
<text x="1012.7" y="928.94">K. marxianus</text>
<text x="1112.3" y="928.94">Singleton</text>
<text x="878" y="950.6">RO104</text>
<text x="1012.7" y="950.6">K. marxianus</text>
<text x="1112.3" y="950.6">S7</text>
<text x="878" y="972.26">RO207</text>
<text x="1012.7" y="972.26" font-size="13.4">K. marxianus</text>
<text x="1112.3" y="972.26">S7</text>
<text x="878" y="993.92">RO102</text>
<text x="1012.7" y="993.92">K. marxianus</text>
<text x="1112.3" y="993.92">S7</text>
<text x="878" y="1015.58">RO109</text>
<text x="1012.7" y="1015.58">K. marxianus</text>
<text x="1112.3" y="1015.58">S7</text>
<text x="878" y="1037.24">RO202</text>
<text x="1012.7" y="1037.24">K. marxianus</text>
<text x="1112.3" y="1037.24">S7</text>
<text x="878" y="1058.9">RO105</text>
<text x="1012.7" y="1058.9">K. marxianus</text>
<text x="1112.3" y="1058.9">S7</text>
<text x="878" y="1080.56">RO103</text>
<text x="1012.7" y="1080.56">K. marxianus</text>
<text x="1112.3" y="1080.56">S7</text>
<text x="878" y="1102.22">RO107</text>
<text x="1012.7" y="1102.22">K. marxianus</text>
<text x="1112.3" y="1102.22">S7</text>
<text x="878" y="1123.88">RO106</text>
<text x="1012.7" y="1123.88">K. marxianus</text>
<text x="1112.3" y="1123.88">S7</text>
<text x="878" y="1145.54">RO108</text>
<text x="1012.7" y="1145.54">K. marxianus</text>
<text x="1112.3" y="1145.54">S7</text>
<text x="878" y="1167.2">RO205</text>
<text x="1012.7" y="1167.2">K. marxianus</text>
<text x="1112.3" y="1167.2">S7</text>
<text x="878" y="1188.86">RO208</text>
<text x="1012.7" y="1188.86">K. marxianus</text>
<text x="1112.3" y="1188.86">S8</text>
<text x="878" y="1210.52">RO209</text>
<text x="1012.7" y="1210.52">K. marxianus</text>
<text x="1112.3" y="1210.52">S8</text>
<text x="878" y="1232.18">LA112</text>
<text x="1012.7" y="1232.18">K. marxianus</text>
<text x="1112.3" y="1232.18">singleton</text>
<text x="878" y="1253.84">CA209</text>
<text x="1012.7" y="1253.84">K. marxianus</text>
<text x="1112.3" y="1253.84">S9</text>
<text x="878" y="1275.5">CA214</text>
<text x="1012.7" y="1275.5">K. marxianus</text>
<text x="1112.3" y="1275.5">S9</text>
<text x="878" y="1297.16">LA210</text>
<text x="1012.7" y="1297.16">K. marxianus</text>
<text x="1112.3" y="1297.16">S10</text>
<text x="878" y="1318.82">LA212</text>
<text x="1012.7" y="1318.82">K. marxianus</text>
<text x="1112.3" y="1318.82">S10</text>
<text x="878" y="1340.48">LA211</text>
<text x="1012.7" y="1340.48">K. marxianus</text>
<text x="1112.3" y="1340.48">S10</text>
<text x="878" y="1362.14">LA203</text>
<text x="1012.7" y="1362.14">K. marxianus</text>
<text x="1112.3" y="1362.14">S10</text>
<text x="878" y="1383.8">LA201</text>
<text x="1012.7" y="1383.8">K. marxianus</text>
<text x="1112.3" y="1383.8">singleton</text>
<text x="878" y="1405.46">LA113</text>
<text x="1012.7" y="1405.46">W. pararugosa</text>
<text x="1112.3" y="1405.46">S11</text>
<text x="878" y="1427.12">LA114</text>
<text x="1012.7" y="1427.12">W. pararugosa</text>
<text x="1112.3" y="1427.12">S11</text>
<text x="878" y="1448.78">LA116</text>
<text x="1012.7" y="1448.78">W. pararugosa</text>
<text x="1112.3" y="1448.78">S11</text>
<text x="878" y="1470.44">LA115</text>
<text x="1012.7" y="1470.44">W. pararugosa</text>
<text x="1112.3" y="1470.44">S11</text>
<text x="878" y="1492.1">LA105</text>
<text x="1012.7" y="1492.1">W. pararugosa</text>
<text x="1112.3" y="1492.1">S11</text>
<text x="878" y="1513.76">LA107</text>
<text x="1012.7" y="1513.76">W. pararugosa</text>
<text x="1112.3" y="1513.76">S11</text>
<text x="878" y="1535.42">LA106</text>
<text x="1012.7" y="1535.42">W. pararugosa</text>
<text x="1112.3" y="1535.42">S11</text>
<text x="878" y="1557.08">LA108</text>
<text x="1012.7" y="1557.08">W. pararugosa</text>
<text x="1112.3" y="1557.08">S11</text>
<text x="878" y="1578.74">LA109</text>
<text x="1012.7" y="1578.74">W. pararugosa</text>
<text x="1112.3" y="1578.74">S11</text>
<text x="878" y="1600.4">LA104</text>
<text x="1012.7" y="1600.4">W. pararugosa</text>
<text x="1112.3" y="1600.4">S11</text>
<text x="878" y="1622.06">LA117</text>
<text x="1012.7" y="1622.06">W. pararugosa</text>
<text x="1112.3" y="1622.06">S11</text>
<text x="878" y="1643.72">LA118</text>
<text x="1012.7" y="1643.72">W. pararugosa</text>
<text x="1112.3" y="1643.72">S11</text>
<text x="878" y="1665.38">LA206</text>
<text x="1012.7" y="1665.38">W. pararugosa</text>
<text x="1112.3" y="1665.38">S12</text>
<text x="878" y="1687.04">LA215</text>
<text x="1012.7" y="1687.04">W. pararugosa</text>
<text x="1112.3" y="1687.04">S12</text>
<text x="878" y="1708.7">LA213</text>
<text x="1012.7" y="1708.7">W. pararugosa</text>
<text x="1112.3" y="1708.7">S12</text>
<text x="878" y="1730.36">LA216</text>
<text x="1012.7" y="1730.36">W. pararugosa</text>
<text x="1112.3" y="1730.36">S16</text>
<text x="878" y="1752.02">LA204</text>
<text x="1012.7" y="1752.02">W. pararugosa</text>
<text x="1112.3" y="1752.02">S12</text>
<text x="878" y="1773.68">LA205</text>
<text x="1012.7" y="1773.68">W. pararugosa</text>
<text x="1112.3" y="1773.68">S12</text>
<text x="878" y="1795.34">LA217</text>
<text x="1012.7" y="1795.34">W. pararugosa</text>
<text x="1112.3" y="1795.34">S12</text>
<text x="878" y="1817">LA102</text>
<text x="1012.7" y="1820.5" font-size="13.4">K. marxianus</text>
<text x="1112.3" y="1817">singleton</text>
<text x="878" y="1838.66">LA110</text>
<text x="1012.7" y="1838.66">K. marxianus</text>
<text x="1112.3" y="1838.66">singleton</text>
</g>
<path d="M878 215.26H914.4M878 236.92H914.4M878 323.56H914.4M878 431.86H914.4M878 475.18H914.4M878 496.84H914.4M878 561.82H914.4M878 648.46H914.4M878 735.1H914.4M878 800.08H914.4M878 865.06H914.4M878 886.72H914.4M878 908.38H914.4M878 930.04H914.4M878 995.02H914.4M878 1060H914.4M878 1124.98H914.4M878 1233.28H914.4M878 1254.94H914.4M878 1276.6H914.4M878 1298.26H914.4M878 1384.9H914.4M878 1818.1H914.4M878 1839.76H914.4" stroke="#1e1e1e" stroke-width="1.5" fill="none"/>
</g>
</svg>
</body></html>
